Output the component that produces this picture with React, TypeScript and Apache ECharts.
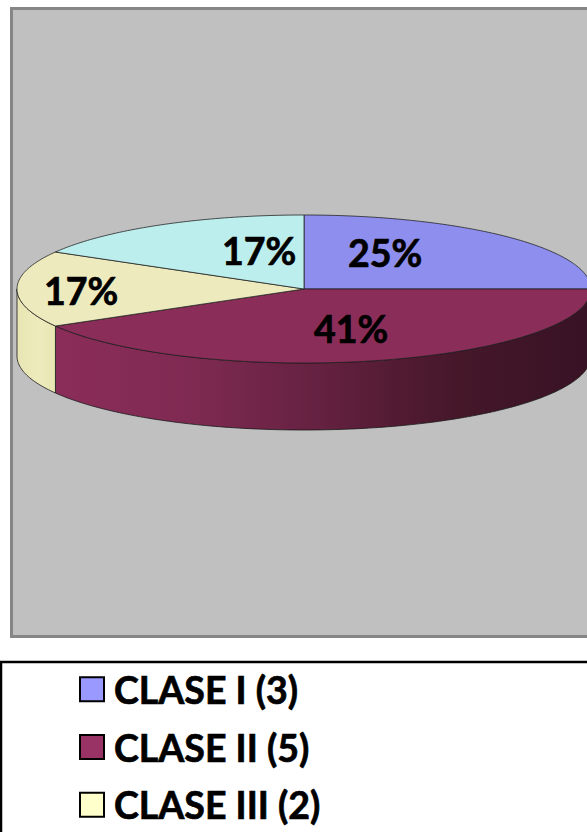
import React, { useEffect, useRef } from "react";
import * as echarts from "echarts";

const categories = ["CLASE I (3)", "CLASE II (5)", "CLASE III (2)", "CLASE IV (2)"];
const counts = [3, 5, 2, 2];
const percentLabels = ["25%", "41%", "17%", "17%"];
const topColors = ["#8E8EEE", "#8B2D59", "#EDEBBD", "#BCEEEE"];
const legendColors = ["#9999FF", "#993366", "#FFFFCC", "#CCFFFF"];
const legendNames = categories.slice(0, 3);

const CX = 304;
const CY = 289;
const RX = 287;
const RY = 74;
const DEPTH = 67;
const labelSpots = [
  [385, 252],
  [351, 328.5],
  [259, 250],
  [81, 290],
];

const total = counts.reduce((a, b) => a + b, 0);
const ellipsePoint = (deg: number, dy = 0) => {
  const r = (deg * Math.PI) / 180;
  return [CX + RX * Math.sin(r), CY - RY * Math.cos(r) + dy];
};
const arc = (from: number, to: number, dy = 0) => {
  const n = Math.max(2, Math.ceil(Math.abs(to - from)));
  const pts: number[][] = [];
  for (let i = 0; i <= n; i++) pts.push(ellipsePoint(from + ((to - from) * i) / n, dy));
  return pts;
};

const wallFills: Record<number, any> = {
  1: {
    type: "linear", x: 0, y: 0, x2: 1, y2: 0,
    colorStops: [
      { offset: 0, color: "#8B2D59" },
      { offset: 0.25, color: "#7F2A52" },
      { offset: 0.5, color: "#642140" },
      { offset: 0.75, color: "#451729" },
      { offset: 1, color: "#381225" },
    ],
  },
  2: {
    type: "linear", x: 0, y: 0, x2: 1, y2: 0,
    colorStops: [
      { offset: 0, color: "#E9E6B4" },
      { offset: 0.6, color: "#EDEBBD" },
      { offset: 1, color: "#E8E5B2" },
    ],
  },
};

const renderSlice = (index: number) => (_params: any, api: any) => {
  const before = counts.slice(0, index).reduce((a, b) => a + b, 0);
  const start = (before / total) * 360;
  const end = start + (api.value(0) / total) * 360;
  const children: any[] = [];
  const wStart = Math.max(start, 90);
  const wEnd = Math.min(end, 270);
  if (wEnd > wStart) {
    children.push({
      type: "polygon",
      shape: { points: [...arc(wStart, wEnd), ...arc(wEnd, wStart, DEPTH)] },
      style: { fill: wallFills[index] || topColors[index], stroke: "rgba(25,25,25,0.8)", lineWidth: 1 },
    });
  }
  children.push({
    type: "polygon",
    shape: { points: [[CX, CY], ...arc(start, end)] },
    style: { fill: topColors[index], stroke: "rgba(30,30,30,0.75)", lineWidth: 1 },
  });
  return { type: "group", children };
};

const labelSeries = {
  type: "custom",
  coordinateSystem: "none",
  silent: true,
  z: 10,
  data: percentLabels.map((t) => [t]),
  renderItem: (params: any) => ({
    type: "text",
    x: labelSpots[params.dataIndex][0],
    y: labelSpots[params.dataIndex][1],
    style: {
      text: percentLabels[params.dataIndex],
      fill: "#000",
      stroke: "#000",
      lineWidth: 0.7,
      font: "bold 37.5px Lato",
      align: "center",
      verticalAlign: "middle",
    },
  }),
};

export default function App() {
  const ref = useRef<HTMLDivElement>(null);
  useEffect(() => {
    const chart = echarts.init(ref.current!, null, { renderer: "svg" });
    chart.setOption({
      animation: false,
      backgroundColor: "#FFFFFF",
      graphic: [
        { type: "rect", z: -10, shape: { x: 11.5, y: 8.5, width: 700, height: 628 }, style: { fill: "#C0C0C0", stroke: "#868686", lineWidth: 3 } },
        { type: "rect", z: -10, shape: { x: 1, y: 662, width: 700, height: 300 }, style: { fill: "#FFFFFF", stroke: "#000000", lineWidth: 2.5 } },
      ],
      legend: {
        orient: "vertical",
        left: 74,
        top: 665,
        height: 400,
        itemWidth: 24,
        itemHeight: 24,
        itemGap: 19,
        selectedMode: false,
        icon: "rect",
        textStyle: {
          fontFamily: "Lato", fontWeight: "bold", fontSize: 37.5, color: "#000",
          textBorderColor: "#000", textBorderWidth: 0.7, padding: [0, 0, 0, 5],
        },
        data: legendNames.map((name, i) => ({
          name,
          itemStyle: { color: legendColors[i], borderColor: "#000", borderWidth: 2 },
        })),
      },
      series: [
        ...categories.map((name, i) => ({
          type: "custom",
          name,
          coordinateSystem: "none",
          silent: true,
          itemStyle: { color: legendColors[i] },
          data: [[counts[i]]],
          renderItem: renderSlice(i),
        })),
        labelSeries,
      ],
    });
    return () => chart.dispose();
  }, []);
  return <div ref={ref} style={{ position: "absolute", left: 0, top: 0, width: 587, height: 832 }} />;
}
